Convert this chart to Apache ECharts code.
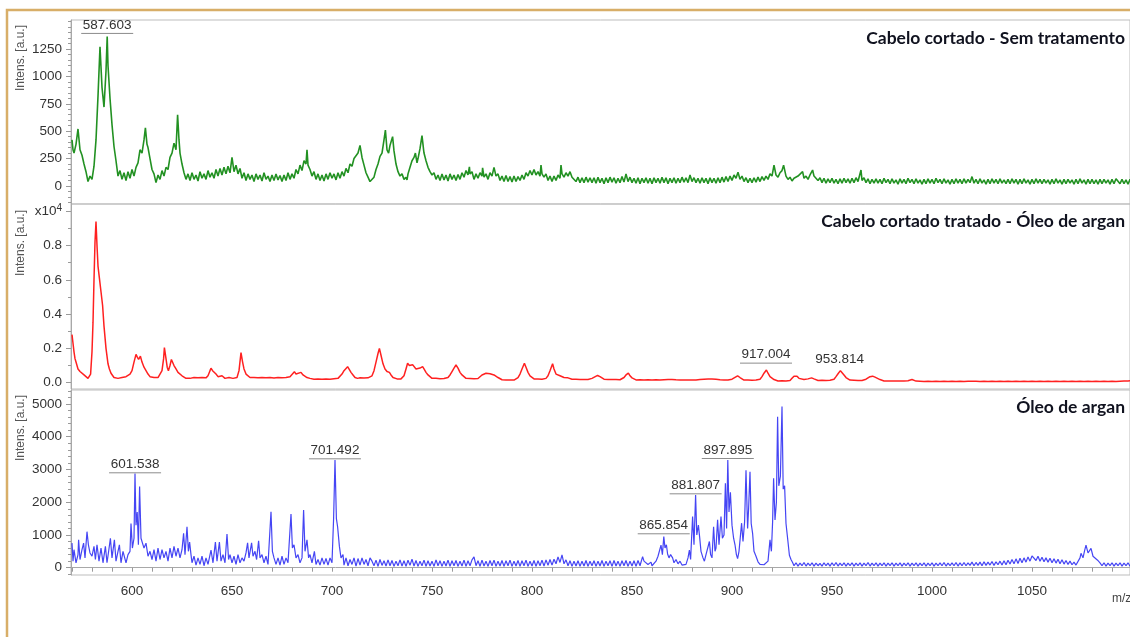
<!DOCTYPE html>
<html>
<head>
<meta charset="utf-8">
<script src="https://cdn.jsdelivr.net/npm/echarts@6/dist/echarts.min.js"></script>
<style>
  html, body { margin: 0; padding: 0; background: #fff; }
  #chart { width: 1130px; height: 637px; }
</style>
</head>
<body>
<div id="chart"></div>
<script>
// espectros MALDI: [m/z, intensidade]
const greenData = [
  [570,420],[570.5,330],[571,300],[572,380],[573,520],[574,330],[575,280],[576,200],[577,130],[578,40],[579,90],[580,60],[581,180],[582,420],[583,820],[584,1270],[585,900],[586,720],[587,1050],[587.6,1365],[588,1100],[589,800],[590,560],[591,360],[592,230],[593,90],[594,140],[595,60],[596,120],[597,50],[598,130],[599,70],
  [600,150],[601,90],[602,170],[603,210],[604,330],[605,300],[606,420],[606.7,530],[607.5,380],[608,350],[609,250],[610,150],[611,110],[612,30],[613,100],[614,60],[615,140],[616,90],[617,170],[618,150],[619,260],[620,300],[621,390],[622,330],[622.8,650],[623.5,420],[624,300],[625,200],[626,120],[627,60],[628,110],[629,50],
  [630,120],[631,60],[632,100],[633,45],[634,130],[635,70],[636,110],[637,60],[638,140],[639,80],[640,120],[641,70],[642,150],[643,90],[644,160],[645,100],[646,170],[647,110],[648,180],[649,120],[650,260],[651,130],[652,190],[653,110],[654,160],[655,70],[656,120],[657,50],[658,110],[659,60],
  [660,100],[661,40],[662,110],[663,60],[664,100],[665,45],[666,120],[667,60],[668,90],[669,40],[670,100],[671,50],[672,110],[673,55],[674,95],[675,40],[676,100],[677,50],[678,120],[679,60],[680,110],[681,70],[682,150],[683,110],[684,190],[685,140],[686,230],[687,200],[687.5,330],[688,190],[689,150],
  [690,90],[691,130],[692,60],[693,110],[694,50],[695,100],[696,45],[697,110],[698,60],[699,120],[700,70],[701,110],[702,55],[703,120],[704,70],[705,130],[706,90],[707,160],[708,120],[709,200],[710,180],[711,250],[712,240],[713,300],[714,370],[715,260],[716,190],[717,120],[718,80],[719,40],
  [720,25],[721,80],[722,150],[723,200],[724,270],[725,300],[726,420],[726.7,510],[727.5,330],[728.3,300],[729,370],[730.3,450],[731,320],[732,200],[733,130],[734,90],[735,110],[736,60],[737,80],[737.5,55],[738,110],[739,170],[740,230],[741,260],[741.7,300],[742.5,210],[743,250],[744,340],[745,460],[745.8,330],[746,300],[747,230],[748,170],[749,130],
  [750,100],[751,120],[752,60],[753,100],[754,50],[755,110],[756,55],[757,100],[758,45],[759,110],[760,60],[761,100],[762,50],[763,105],[764,60],[765,120],[766,80],[767,140],[768,100],[768.7,175],[769,110],[770,130],[771,60],[772,110],[773,70],[774,120],[775,90],[775.3,165],[776,80],[777,110],[778,60],[779,120],
  [780,90],[781,170],[782,90],[783,110],[784,50],[785,90],[786,40],[787,95],[788,40],[789,85],[790,35],[791,90],[792,40],[793,85],[794,50],[795,100],[796,60],[797,120],[798,90],[799,140],[800,100],[801,150],[802,100],[803,130],[804,90],[804.5,190],[805,110],[806,80],[807,110],[808,50],[809,90],
  [810,40],[811,90],[812,50],[813,100],[814,70],[814.5,190],[815,110],[816,80],[817,120],[818,90],[819,130],[820,80],[821,90],[822,40],[823,80],[824,30],[825,75],[826,30],[827,80],[828,35],[829,75],
  [830,30],[831,75],[832,25],[833,80],[834,30],[835,70],[836,20],[837,75],[838,30],[839,80],[840,35],[841,75],[842,25],[843,70],[844,30],[845,85],[846,35],[847,110],[848,40],[849,80],[850,30],[851,70],[852,25],[853,75],[854,20],[855,70],[856,30],[857,75],[858,25],[859,70],
  [860,20],[861,75],[862,30],[863,70],[864,25],[865,80],[866,30],[867,75],[868,20],[869,70],[870,30],[871,75],[872,25],[873,70],[874,30],[875,80],[876,35],[877,75],[878,30],[879,100],[880,40],[881,75],[882,30],[883,70],[884,25],[885,75],[886,30],[887,70],[888,20],[889,75],
  [890,30],[891,70],[892,25],[893,75],[894,30],[895,80],[896,35],[897,85],[898,40],[899,90],[900,50],[901,100],[902,70],[903,125],[904,60],[905,90],[906,40],[907,75],[908,30],[909,70],[910,30],[911,75],[912,35],[913,80],[914,40],[915,85],[916,50],[917,90],[918,60],[919,110],
  [920,90],[921,190],[922,100],[923,80],[924,120],[925,140],[925.8,190],[927,90],[928,60],[929,80],[930,45],[931,70],[932,60],[933,90],[934,80],[935.3,130],[936,70],[937,90],[938,60],[939,100],[940.3,145],[941,90],[942,70],[943,50],[944,75],[945,30],[946,70],[947,25],[948,65],[949,30],
  [950,70],[951,25],[952,60],[953,20],[954,65],[955,25],[956,70],[957,30],[958,65],[959,25],[960,70],[961,30],[962,75],[963,40],[964.5,145],[965,50],[966,75],[967,30],[968,65],[969,20],[970,60],[971,25],[972,65],[973,25],[974,60],[975,20],[976,70],[977,30],[978,60],[979,20],
  [980,65],[981,25],[982,55],[983,15],[984,65],[985,25],[986,60],[987,20],[988,70],[989,30],[990,60],[991,20],[992,65],[993,25],[994,55],[995,15],[996,60],[997,20],[998,65],[999,25],[1000,60],[1001,20],[1002,70],[1003,30],[1004,60],[1005,20],[1006,65],[1007,25],[1008,55],[1009,15],
  [1010,60],[1011,20],[1012,65],[1013,25],[1014,60],[1015,20],[1016,65],[1017,25],[1018,60],[1019,30],[1020,85],[1021,25],[1022,60],[1023,20],[1024,65],[1025,25],[1026,55],[1027,15],[1028,60],[1029,20],[1030,65],[1031,25],[1032,60],[1033,20],[1034,65],[1035,25],[1036,55],[1037,20],[1038,60],[1039,20],
  [1040,65],[1041,25],[1042,60],[1043,15],[1044,60],[1045,20],[1046,65],[1047,25],[1048,55],[1049,15],[1050,60],[1051,20],[1052,65],[1053,25],[1054,60],[1055,20],[1056,60],[1057,25],[1058,55],[1059,15],[1060,60],[1061,20],[1062,65],[1063,25],[1064,55],[1065,15],[1066,60],[1067,20],[1068,60],[1069,25],
  [1070,55],[1071,15],[1072,60],[1073,20],[1074,65],[1075,25],[1076,55],[1077,15],[1078,60],[1079,20],[1080,60],[1081,20],[1082,55],[1083,15],[1084,60],[1085,20],[1086,60],[1087,25],[1088,55],[1089,15],[1090,60],[1091,20],[1092,65],[1093,80],[1094,20],[1095,60],[1096,20],[1097,55],[1098,15],[1099,60],[1100,20]
];

const redData = [
  [570,2800],[570.5,2300],[571,1800],[571.5,1400],[572,1200],[573,800],[574,650],[575,550],[576,450],[577,400],[578,250],[578.7,160],[579.3,500],[580,1800],[580.5,3500],[581,6000],[581.5,8200],[582,9400],[582.5,8000],[583,6800],[583.7,6100],[584.5,5300],[585.3,4500],[586,3300],[587,2000],[588,1100],[588.7,800],[589.5,550],
  [590.5,450],[591,300],[592,400],[593,250],[594,350],[595,300],[596,200],[597,350],[598,300],[599,500],[600,700],[601,1200],[602,1650],[602.6,1500],[603.3,1350],[604.2,1550],[605,1200],[606,900],[607,700],[608,500],[609,350],[610,250],[611,300],[612,200],[613,300],[614,350],[615,700],[615.8,1400],[616.2,2050],[617,1400],[617.6,900],[618.2,700],
  [619,1000],[619.7,1350],[620.3,1420],[621,1000],[622,800],[623,600],[624,500],[625,400],[626,300],[627,250],[628,300],[629,250],[630,200],[631,300],[632,250],[633,280],[634,200],[635,300],[636,250],[637,280],[638,400],[639,700],[639.5,840],[640.3,700],[641,750],[642,500],[643,350],[644,300],[645,400],[645.7,380],[646.5,250],[647.5,350],[648.5,300],[649.5,220],
  [650.5,250],[651.5,200],[652.5,300],[653.5,700],[654.5,1750],[655.3,1200],[656,800],[657,500],[658,400],[659,300],[660,250],[661,300],[662,200],[663,280],[664,220],[665,300],[666,200],[667,280],[668,220],[669,300],[670,200],[671,270],[672,230],[673,300],[674,200],[675,280],[676,220],[677,300],[678,250],[679,350],[680,450],[681.2,640],[682,500],[683,550],[684.5,600],[685.5,450],[686.5,350],[687.5,300],[689,250],
  [690,300],[691,200],[692,280],[693,220],[694,300],[695,200],[696,280],[697,220],[698,300],[699,200],[700,280],[701,230],[702,300],[703,250],[704,350],[705,500],[706,700],[707.8,930],[708.5,850],[709.5,600],[710.5,450],[711.5,300],[712.8,250],[714,280],[715,200],[716,270],[717,220],[718,280],[719,250],
  [720,400],[721,700],[722,1200],[723,1700],[723.7,2000],[724.5,1600],[725.5,1100],[726.5,800],[727.5,650],[728.7,600],[729.5,450],[730.5,300],[731.5,250],[732.5,220],[733.5,260],[734.5,220],[735.3,280],[736,400],[737,800],[737.8,1130],[738.7,1000],[739.5,900],[740.3,1050],[741.2,1000],[742,800],[743,750],[744,850],[745.3,930],[746,800],[747,600],[748,450],[749,350],
  [750,250],[751,200],[752,250],[753,170],[754,230],[755,180],[756,240],[757,200],[758,300],[759,450],[760,650],[761,850],[762,1030],[763,850],[764,600],[765,450],[766,350],[767,250],[768,200],[769,240],[770,170],[771,230],[772,180],[773,240],[774,300],[775,450],[776,500],[777,550],[778,480],[779,520],
  [780,500],[781,450],[782,380],[783,300],[784,250],[785,170],[786,210],[787,150],[788,200],[789,160],[790,210],[791,150],[792,200],[793,300],[794,500],[795,800],[796.2,1130],[797,900],[798,600],[799,400],[800,300],[801,220],[802,170],[803,210],[804,150],[805,200],[806,160],[807,250],[808,400],[809,700],
  [810.3,1100],[811,800],[812,500],[813,420],[814,400],[815,350],[816,300],[817,320],[818,280],[819,250],[820,200],[821,160],[822,200],[823,150],[824,190],[825,140],[826,190],[827,150],[828,180],[829,200],[830,250],[831,350],[832.8,420],[834,350],[835,250],[836,200],[837,160],[838,190],[839,140],
  [840,180],[841,130],[842,180],[843,140],[844,170],[845,220],[846,300],[847,450],[848.2,560],[849,400],[850,280],[851,200],[852,160],[853,120],[854,170],[855,110],[856,160],[857,120],[858,170],[859,110],[860,160],[861,120],[862,170],[863,110],[864,150],[865,120],[866,170],[867,130],[868,180],[869,140],
  [870,190],[871,140],[872,170],[873,120],[874,160],[875,110],[876,150],[877,120],[878,160],[879,110],[880,150],[881,120],[882,160],[883,130],[884,180],[885,150],[886,200],[887,160],[888,210],[889,170],[890,220],[891,160],[892,200],[893,140],[894,170],[895,120],[896,160],[897,110],[898,150],[899,130],
  [900,200],[901,300],[902.8,400],[904,300],[905,200],[906,150],[907,110],[908,150],[909,100],[910,140],[911,110],[912,150],[913,130],[914,200],[915,350],[916,550],[917.2,740],[918,550],[919,350],[920,250],[921,180],[922,140],[923,100],[924,140],[925,110],[926,150],[927,100],[928,140],[929,120],
  [930,250],[931,380],[931.7,450],[932.5,380],[933.5,250],[934.5,200],[936,180],[937,200],[938,220],[939.8,280],[941,220],[942,170],[943,130],[944,100],[945,140],[946,90],[947,130],[948,100],[949,140],[950,120],[951,200],[952,350],[953.2,550],[954.2,700],[955,650],[956,450],[957,300],[958,200],[959,150],
  [960,110],[961,140],[962,100],[963,130],[964,90],[965,130],[966,110],[967,200],[968,300],[969,350],[970.3,380],[971.5,320],[972.5,250],[974,180],[975,150],[976,100],[977,140],[978,90],[979,130],[980,100],[981,140],[982,90],[983,130],[984,100],[985,140],[986,90],[987,130],[988,110],[989,150],
  [990,180],[991,120],[992,90],[993,130],[994,80],[995,120],[996,70],[997,110],[998,80],[999,120],[1000,70],[1001,110],[1002,80],[1003,120],[1004,70],[1005,110],[1006,80],[1007,120],[1008,70],[1009,110],[1010,80],[1011,130],[1012,70],[1013,110],[1014,80],[1015,120],[1016,70],[1017,110],[1018,80],[1019,120],
  [1020,80],[1021,130],[1022,80],[1023,120],[1024,70],[1025,110],[1026,80],[1027,120],[1028,70],[1029,110],[1030,80],[1031,120],[1032,70],[1033,110],[1034,80],[1035,120],[1036,70],[1037,110],[1038,80],[1039,120],[1040,70],[1041,110],[1042,80],[1043,120],[1044,70],[1045,110],[1046,80],[1047,120],[1048,70],[1049,110],
  [1050,80],[1051,120],[1052,70],[1053,110],[1054,80],[1055,120],[1056,70],[1057,110],[1058,80],[1059,120],[1060,70],[1061,110],[1062,80],[1063,120],[1064,70],[1065,110],[1066,80],[1067,120],[1068,70],[1069,110],[1070,80],[1071,120],[1072,70],[1073,110],[1074,80],[1075,120],[1076,70],[1077,110],[1078,80],[1079,120],
  [1080,70],[1081,110],[1082,80],[1083,120],[1084,70],[1085,110],[1086,80],[1087,120],[1088,70],[1089,110],[1090,80],[1091,120],[1092,70],[1093,110],[1094,80],[1095,120],[1096,90],[1097,140],[1098,100],[1099,150],[1100,110]
];

const blueData = [
  [570,750],[570.5,200],[571,550],[572,150],[573,400],[573.3,850],[574,250],[575,550],[575.8,750],[576.5,300],[577.5,1100],[578.2,700],[579,450],[580,350],[581,650],[581.7,250],[582.5,700],[583.5,200],[584.5,600],[585.5,150],[586.7,650],[587.5,150],[588.2,450],[589.2,900],[590,300],[591.2,850],[592,200],[593,500],[593.7,700],[594.5,150],
  [595.5,500],[596.2,550],[597,150],[598,400],[599,500],[599.5,1350],[600.2,600],[601,900],[601.5,2880],[602,1300],[602.6,1700],[603.2,700],[603.8,2480],[604.5,900],[605.3,950],[606,600],[607,750],[608,350],[609,500],[610,250],[611,550],[612,200],[613,600],[614,250],[615,550],[616,300],[617,500],[618,200],[619,600],[620,300],
  [621,650],[622,350],[623,600],[624,300],[625,550],[625.8,1050],[626.5,400],[627.5,1250],[628.2,500],[628.8,780],[629.5,400],[630,150],[631,350],[632,80],[633,300],[634,100],[635,350],[636,60],[637,300],[638,100],[639.5,540],[640.5,150],[641.7,780],[642.5,200],[643.7,780],[644.5,200],[645.5,400],[646.5,150],[647.5,1030],[648.3,250],
  [649,400],[650,150],[651,350],[652,100],[653,400],[654,150],[655,300],[656,200],[657,450],[657.8,760],[658.5,300],[659.8,760],[660.5,350],[661.5,500],[662.3,250],[663.3,820],[664,300],[665,400],[666,150],[667,350],[668,100],[669.5,1710],[670.2,500],[671,300],[672,100],[673,300],[674,80],[675,350],[676,100],[677,300],
  [678,150],[679.5,1640],[680.2,600],[681,700],[682,300],[683,400],[684,150],[685,300],[685.8,1760],[686.5,500],[687.5,850],[688.3,300],[689,400],[690,150],[691.2,500],[692,100],[693,250],[694,80],[695,300],[696,100],[697,280],[698,80],[699,300],[700,150],[700.8,1500],[701.5,3290],[702.2,1500],[702.8,1250],[703.7,650],[704.5,300],
  [705.5,400],[706,80],[707,300],[708,60],[709,250],[710,100],[711,300],[712,50],[713,280],[714,80],[715,300],[716,100],[717,250],[718,60],[719,300],
  [720,200],[721,60],[722,230],[723,40],[724,250],[725,70],[726,210],[727,50],[728,240],[729,60],[730,220],[731,40],[732,200],[733,60],[734,240],[735,50],[736,210],[737,40],[738,230],[739,70],[740,260],[741,50],[742,220],[743,40],[744,200],[745,60],[746,230],[747,40],[748,210],[749,50],
  [750,200],[751,40],[752,240],[753,60],[754,210],[755,40],[756,200],[757,50],[758,230],[759,40],[760,210],[761,60],[762,220],[763,40],[764,200],[765,50],[766,230],[767,40],[768,210],[769,60],[770,240],[771,330],[772,60],[773,210],[774,40],[775,230],[776,50],[777,200],[778,40],[779,220],
  [780,60],[781,230],[782,40],[783,200],[784,50],[785,220],[786,40],[787,210],[788,60],[789,230],[790,40],[791,200],[792,50],[793,220],[794,40],[795,210],[796,60],[797,230],[798,40],[799,200],[800,50],[801,220],[802,40],[803,210],[804,60],[805,230],[806,50],[807,240],[808,70],[809,250],
  [810,80],[811,260],[812,120],[813,330],[814,160],[815,390],[816,120],[817,240],[818,60],[819,210],[820,40],[821,200],[822,50],[823,210],[824,40],[825,200],[826,50],[827,220],[828,40],[829,200],[830,60],[831,210],[832,40],[833,200],[834,50],[835,220],[836,40],[837,200],[838,60],[839,210],
  [840,40],[841,220],[842,50],[843,200],[844,40],[845,210],[846,60],[847,220],[848,40],[849,200],[850,50],[851,210],[852,40],[853,220],[854,60],[855.3,336],[856,200],[857,150],[858,100],[859.5,170],[860,60],[861,120],[862,200],[863,350],[864.5,690],[865.2,400],[865.9,950],[866.5,600],[867.2,700],[867.8,420],
  [868.5,300],[869.3,400],[870.3,300],[871,150],[872,250],[873,120],[874,200],[875,80],[876,130],[877,100],[878,300],[878.7,540],[879.3,250],[880.3,1560],[881,700],[881.8,2220],[882.4,1000],[883.2,1300],[883.8,950],[884.5,500],[885.5,300],[886.2,200],[887,400],[887.8,350],[888.7,800],[889.3,400],[890,300],[890.8,1250],[891.5,500],[892,600],
  [892.8,1460],[893.5,700],[894.5,1560],[895.2,900],[896,1000],[896.7,2580],[897.3,1200],[897.9,3290],[898.5,1700],[899.2,2300],[900,1300],[900.8,900],[901.5,700],[902.2,400],[902.8,280],[903.5,500],[904.8,1360],[905.5,800],[906.3,1400],[907,2980],[907.8,1200],[908.3,1800],[909,2930],[909.6,1350],[910.3,1050],[911,500],[912,350],[913,180],[914,100],[915,160],
  [916,90],[917,150],[918,200],[919,850],[919.7,500],[920.3,1400],[920.8,2730],[921.5,1460],[922.2,2000],[922.8,4610],[923.4,2500],[924.2,2800],[925,4920],[925.6,2400],[926.3,2500],[927,1350],[927.8,900],[928.7,380],[929.5,250],[930.3,160],
  [931,60],[932,150],[933,50],[934,140],[935,60],[936,160],[937,50],[938,140],[939,60],[940,150],[941,50],[942,140],[943,60],[944,130],[945,50],[946,150],[947,60],[948,140],[949,50],[950,150],[951,60],[952,160],[953,50],[954,140],[955,60],[956,150],[957,50],[958,140],[959,60],
  [960,150],[961,50],[962,140],[963,60],[964,150],[965,50],[966,140],[967,60],[968,160],[969,50],[970,140],[971,60],[972,150],[973,50],[974,140],[975,60],[976,150],[977,50],[978,140],[979,60],[980,150],[981,50],[982,140],[983,60],[984,150],[985,50],[986,140],[987,60],[988,150],[989,50],
  [990,140],[991,60],[992,150],[993,50],[994,140],[995,60],[996,150],[997,50],[998,140],[999,60],[1000,150],[1001,50],[1002,140],[1003,60],[1004,150],[1005,60],[1006,160],[1007,50],[1008,140],[1009,60],[1010,150],[1011,60],[1012,160],[1013,50],[1014,150],[1015,60],[1016,160],[1017,60],[1018,150],[1019,70],
  [1020,170],[1021,60],[1022,160],[1023,70],[1024,170],[1025,60],[1026,180],[1027,70],[1028,170],[1029,80],[1030,190],[1031,70],[1032,180],[1033,90],[1034,200],[1035,80],[1036,210],[1037,90],[1038,230],[1039,110],[1040,250],[1041,120],[1042,270],[1043,130],[1044,290],[1045,150],[1046,300],[1047,170],[1048,330],[1049,200],
  [1050,360],[1051,390],[1052,220],[1053,350],[1054,200],[1055,320],[1056,180],[1057,300],[1058,170],[1059,290],[1060,150],[1061,270],[1062,140],[1063,260],[1064,120],[1065,240],[1066,110],[1067,220],[1068,100],[1069,200],[1070,90],[1071,170],[1072,80],[1073,110],[1074,300],[1074.5,440],[1075.5,300],[1076.3,520],[1077,690],[1078,450],
  [1079.5,590],[1080.5,350],[1081.5,300],[1082.8,230],[1084,150],[1085,60],[1086,150],[1087,50],[1088,140],[1089,60],[1090,150],[1091,50],[1092,140],[1093,60],[1094,150],[1095,50],[1096,140],[1097,60],[1098,150],[1099,50],[1100,140]
];

// rótulos dos picos: [m/z, altura do sublinhado, texto, sublinhado?]
const greenLabels = [[587.603, 1397, '587.603', 1]];
const redLabels = [[917.004, 1168, '917.004', 1], [953.814, 900, '953.814', 0]];
const blueLabels = [
  [601.538, 2914, '601.538', 1], [701.492, 3341, '701.492', 1], [865.854, 1051, '865.854', 1],
  [881.807, 2272, '881.807', 1], [897.895, 3351, '897.895', 1]
];

const titles = ['Cabelo cortado - Sem tratamento', 'Cabelo cortado tratado - Óleo de argan', 'Óleo de argan'];

// marcas dos eixos
const greenMajor = [0, 250, 500, 750, 1000, 1250];
const greenMinor = [-150, -100, -50, 50, 100, 150, 200, 300, 350, 400, 450, 550, 600, 650, 700, 800, 850, 900, 950, 1050, 1100, 1150, 1200, 1300, 1350, 1400, 1450, 1500];
const redMajor = [0, 2000, 4000, 6000, 8000, 10000];
const redMinor = [1000, 3000, 5000, 7000, 9000];
const blueMajor = [0, 1000, 2000, 3000, 4000, 5000];
const blueMinor = [-200, 200, 400, 600, 800, 1200, 1400, 1600, 1800, 2200, 2400, 2600, 2800, 3200, 3400, 3600, 3800, 4200, 4400, 4600, 4800, 5200, 5400];
const mzLabels = [600, 650, 700, 750, 800, 850, 900, 950, 1000, 1050];
const mzTicks = [570, 580, 590, 600, 610, 620, 630, 640, 650, 660, 670, 680, 690, 700, 710, 720, 730, 740, 750, 760, 770, 780, 790, 800, 810, 820, 830, 840, 850, 860, 870, 880, 890, 900, 910, 920, 930, 940, 950, 960, 970, 980, 990, 1000, 1010, 1020, 1030, 1040, 1050, 1060, 1070, 1080, 1090];

const FONT = 'Liberation Sans, Arial, sans-serif';
const panels = [
  { top: 20, height: 184, min: -165, max: 1515 },
  { top: 204, height: 185, min: -370, max: 10420 },
  { top: 390, height: 185, min: -223, max: 5428 }
];

const chart = echarts.init(document.getElementById('chart'), null, { renderer: 'canvas' });

const grids = panels.map(p => ({
  left: 71, width: 1059, top: p.top, height: p.height,
  show: true, borderColor: '#bdbdbd', borderWidth: 1, backgroundColor: 'transparent'
}));

const xAxes = panels.map((p, i) => ({
  gridIndex: i, type: 'value', min: 569.5, max: 1099,
  axisLine: { show: i === 2, lineStyle: { color: '#a8a8a8' } },
  axisTick: { show: i === 2, length: 4, customValues: mzTicks, lineStyle: { color: '#9a9a9a' } },
  axisLabel: {
    show: i === 2, customValues: mzLabels, margin: 9, color: '#333', fontSize: 13.5, fontFamily: FONT,
    formatter: v => String(v)
  },
  splitLine: { show: false }
}));

const majors = [greenMajor, redMajor, blueMajor];
const minors = [greenMinor, redMinor, blueMinor];
const yAxes = [];
panels.forEach((p, i) => {
  yAxes.push({
    gridIndex: i, type: 'value', position: 'left', min: p.min, max: p.max,
    axisLine: { show: true, lineStyle: { color: '#a8a8a8' } },
    axisTick: { show: true, length: 5, customValues: majors[i], lineStyle: { color: '#9a9a9a' } },
    axisLabel: {
      customValues: majors[i], margin: 9, color: '#333', fontSize: 13.5, fontFamily: FONT,
      formatter: i === 1 ? (v => v === 10000 ? '{a|x10}{b|4}' : (v / 10000).toFixed(1)) : (v => String(v)),
      rich: {
        a: { fontSize: 13.5, color: '#333', fontFamily: FONT },
        b: { fontSize: 10, color: '#333', fontFamily: FONT, verticalAlign: 'top', padding: [0, 0, 6, 0] }
      }
    },
    splitLine: { show: false }
  });
  yAxes.push({
    gridIndex: i, type: 'value', position: 'left', offset: 0, min: p.min, max: p.max,
    axisLine: { show: false },
    axisTick: { show: true, length: 3, customValues: minors[i], lineStyle: { color: '#9a9a9a' } },
    axisLabel: { show: false },
    splitLine: { show: false }
  });
});

function lineSeries(data, idx, color, width, opacity) {
  return {
    type: 'line', xAxisIndex: idx, yAxisIndex: idx * 2, data: data,
    showSymbol: false, symbol: 'none', sampling: null, animation: false,
    lineStyle: { color: color, width: width, opacity: opacity }, silent: true
  };
}

function labelSeries(labels, idx) {
  return {
    type: 'custom', xAxisIndex: idx, yAxisIndex: idx * 2, data: labels.map(l => [l[0], l[1]]),
    animation: false, silent: true, clip: false, z: 10,
    renderItem: function (params, api) {
      const lab = labels[params.dataIndex];
      const pt = api.coord([api.value(0), api.value(1)]);
      const children = [{
        type: 'text', x: pt[0], y: pt[1] - 1,
        style: { text: lab[2], textAlign: 'center', textVerticalAlign: 'bottom', font: '13.5px ' + FONT, fill: '#333' }
      }];
      if (lab[3]) {
        children.push({
          type: 'line', shape: { x1: pt[0] - 26, y1: pt[1] + 0.5, x2: pt[0] + 26, y2: pt[1] + 0.5 },
          style: { stroke: '#8c8c8c', lineWidth: 1 }
        });
      }
      return { type: 'group', children: children };
    }
  };
}

const graphic = [
  { type: 'polyline', shape: { points: [[7, 640], [7, 10], [1135, 10]] }, style: { stroke: '#d8ae68', lineWidth: 2.5, fill: null }, z: 100 }
];
const titleY = [38, 221, 407];
titles.forEach((t, i) => {
  graphic.push({
    type: 'text', x: 1125, y: titleY[i], z: 100,
    style: { text: t, textAlign: 'right', textVerticalAlign: 'middle', font: 'bold 17.5px Lato, "Open Sans", sans-serif', fill: '#10121f' }
  });
});
const nameY = [58, 243, 428];
nameY.forEach(y => {
  graphic.push({
    type: 'text', x: 21, y: y, rotation: Math.PI / 2, z: 100,
    style: { text: 'Intens. [a.u.]', textAlign: 'center', textVerticalAlign: 'middle', font: '12px ' + FONT, fill: '#555' }
  });
});
graphic.push({
  type: 'text', x: 1112, y: 599, z: 100,
  style: { text: 'm/z', textAlign: 'left', textVerticalAlign: 'middle', font: '12px ' + FONT, fill: '#444' }
});

chart.setOption({
  backgroundColor: '#fff',
  animation: false,
  grid: grids,
  xAxis: xAxes,
  yAxis: yAxes,
  series: [
    lineSeries(greenData, 0, '#0a850a', 1.6, 0.9),
    lineSeries(redData, 1, '#ff2020', 1.5, 1),
    lineSeries(blueData, 2, '#2424f2', 1.2, 0.85),
    labelSeries(greenLabels, 0),
    labelSeries(redLabels, 1),
    labelSeries(blueLabels, 2)
  ],
  graphic: graphic
});
</script>
</body>
</html>
